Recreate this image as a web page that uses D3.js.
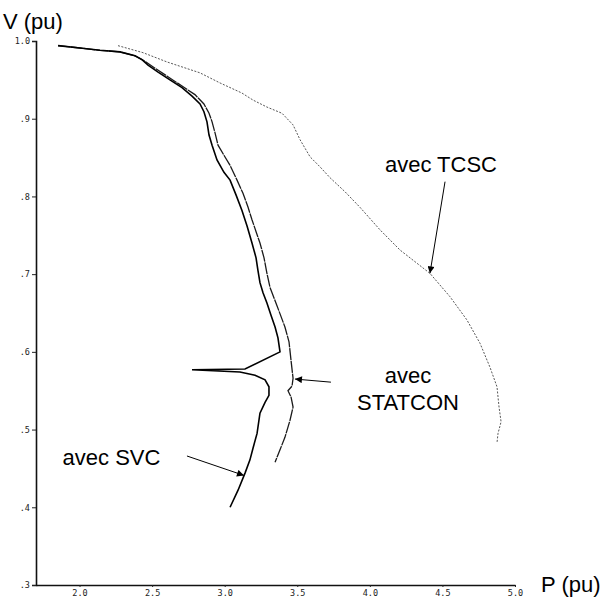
<!DOCTYPE html>
<html>
<head>
<meta charset="utf-8">
<script src="https://cdn.jsdelivr.net/npm/d3@7/dist/d3.min.js"></script>
<style>
  html, body { margin: 0; padding: 0; background: #fff; }
  svg { display: block; }
</style>
</head>
<body>
<svg id="chart" width="610" height="599"></svg>
<script>
// ---- data (P in pu, V in pu) ----
const svcP = [1.852,2.003,2.141,2.279,2.382,2.430,2.472,2.541,2.623,2.706,2.775,2.830,2.857,2.878,2.892,2.913,2.947,2.995,3.037,3.078,3.119,3.154,3.188,3.216,3.229,3.243,3.264,3.291,3.319,3.347,3.367,3.381,3.140,2.775,3.105,3.209,3.278,3.305,3.305,3.278,3.243,3.223,3.195,3.174,3.140,3.092,3.037];
const svcV = [0.994,0.991,0.988,0.986,0.981,0.976,0.969,0.960,0.950,0.940,0.929,0.919,0.909,0.896,0.879,0.866,0.847,0.831,0.821,0.802,0.782,0.762,0.740,0.721,0.705,0.689,0.676,0.663,0.647,0.632,0.618,0.600,0.578,0.577,0.574,0.570,0.564,0.555,0.544,0.535,0.521,0.495,0.476,0.461,0.444,0.422,0.400];

const statconP = [1.852,2.003,2.141,2.279,2.382,2.430,2.458,2.520,2.609,2.706,2.795,2.857,2.892,2.913,2.933,2.954,2.995,3.037,3.085,3.126,3.161,3.188,3.243,3.271,3.291,3.312,3.353,3.415,3.443,3.457,3.471,3.464,3.436,3.457,3.471,3.450,3.415,3.381,3.347];
const statconV = [0.994,0.991,0.988,0.986,0.981,0.976,0.973,0.965,0.954,0.942,0.931,0.919,0.907,0.896,0.882,0.866,0.853,0.840,0.821,0.804,0.786,0.770,0.740,0.721,0.701,0.683,0.663,0.632,0.613,0.589,0.566,0.556,0.550,0.542,0.529,0.512,0.490,0.474,0.458];

const tcscP = [2.265,2.437,2.603,2.830,2.968,3.119,3.195,3.291,3.395,3.471,3.519,3.588,3.657,3.726,3.829,3.932,4.070,4.208,4.414,4.552,4.669,4.759,4.828,4.876,4.890,4.904,4.883,4.876];
const tcscV = [0.994,0.985,0.973,0.959,0.946,0.933,0.924,0.915,0.907,0.892,0.873,0.851,0.838,0.824,0.806,0.786,0.757,0.731,0.701,0.671,0.641,0.611,0.580,0.555,0.529,0.510,0.495,0.483];

const xTicks = [2.0, 2.5, 3.0, 3.5, 4.0, 4.5, 5.0];
const xTickLabels = ["2.0","2.5","3.0","3.5","4.0","4.5","5.0"];
const yTicks = [1.0, 0.9, 0.8, 0.7, 0.6, 0.5, 0.4, 0.3];
const yTickLabels = ["1.0",".9",".8",".7",".6",".5",".4",".3"];

const labels = ["avec SVC", "avec", "STATCON", "avec TCSC"];

// ---- layout ----
const svg = d3.select("#chart");
const x = d3.scaleLinear().domain([1.7, 5.0]).range([36, 515]);
const y = d3.scaleLinear().domain([0.3, 1.0]).range([585, 41]);

// axes
const xAxis = d3.axisBottom(x).tickValues(xTicks)
  .tickFormat((d, i) => xTickLabels[i]).tickSize(2).tickSizeOuter(0).tickPadding(3);
const yAxis = d3.axisLeft(y).tickValues(yTicks)
  .tickFormat((d, i) => yTickLabels[i]).tickSize(4).tickSizeOuter(4).tickPadding(2);

const gx = svg.append("g").attr("transform", `translate(0,${y(0.3)})`).call(xAxis);
const gy = svg.append("g").attr("transform", `translate(${x(1.7)},0)`).call(yAxis);
[gx, gy].forEach(g => {
  g.select(".domain").attr("stroke", "#111").attr("stroke-width", 1.6);
  g.selectAll(".tick line").attr("stroke", "#222").attr("stroke-width", 1);
  g.selectAll(".tick text").attr("font-family", "'DejaVu Sans Mono', monospace")
    .attr("font-size", 8.5).attr("fill", "#222");
});

// curves
const line = d3.line().x(d => x(d[0])).y(d => y(d[1]));
const zip = (a, b) => a.map((v, i) => [v, b[i]]);

svg.append("path").datum(zip(tcscP, tcscV)).attr("d", line)
  .attr("fill", "none").attr("stroke", "#444").attr("stroke-width", 0.9)
  .attr("stroke-dasharray", "2,1.5");
svg.append("path").datum(zip(statconP, statconV)).attr("d", line)
  .attr("fill", "none").attr("stroke", "#1a1a1a").attr("stroke-width", 1.3)
  .attr("stroke-dasharray", "12,0.8");
svg.append("path").datum(zip(svcP, svcV)).attr("d", line)
  .attr("fill", "none").attr("stroke", "#000").attr("stroke-width", 1.6)
  .attr("stroke-linejoin", "miter");

// arrow marker
svg.append("defs").append("marker")
  .attr("id", "arr").attr("viewBox", "0 0 10 10").attr("refX", 10).attr("refY", 5)
  .attr("markerWidth", 10).attr("markerHeight", 7).attr("markerUnits", "userSpaceOnUse")
  .attr("orient", "auto")
  .append("path").attr("d", "M0,0L10,5L0,10Z").attr("fill", "#000");

// annotations: [from P, from V, to P, to V]
const arrows = [
  [2.740, 0.466, 3.133, 0.441],
  [3.732, 0.561, 3.484, 0.565],
  [4.518, 0.819, 4.414, 0.701]
];
arrows.forEach(a => {
  svg.append("line")
    .attr("x1", x(a[0])).attr("y1", y(a[1]))
    .attr("x2", x(a[2])).attr("y2", y(a[3]))
    .attr("stroke", "#000").attr("stroke-width", 1)
    .attr("marker-end", "url(#arr)");
});

const fontFam = "'Liberation Sans', Arial, sans-serif";
const textSize = 22;
// label anchors in data space
svg.append("text").attr("x", x(1.883)).attr("y", y(0.454))
  .attr("font-family", fontFam).attr("font-size", textSize).text(labels[0]);
svg.append("text").attr("x", x(4.263)).attr("y", y(0.560))
  .attr("font-family", fontFam).attr("font-size", textSize).attr("text-anchor", "middle").text(labels[1]);
svg.append("text").attr("x", x(4.263)).attr("y", y(0.525))
  .attr("font-family", fontFam).attr("font-size", textSize).attr("text-anchor", "middle").text(labels[2]);
svg.append("text").attr("x", x(4.104)).attr("y", y(0.831))
  .attr("font-family", fontFam).attr("font-size", textSize).text(labels[3]);

// axis titles
svg.append("text").attr("x", 3).attr("y", 29)
  .attr("font-family", fontFam).attr("font-size", textSize).text("V (pu)");
svg.append("text").attr("x", 541).attr("y", 592)
  .attr("font-family", fontFam).attr("font-size", textSize).text("P (pu)");
</script>
</body>
</html>
